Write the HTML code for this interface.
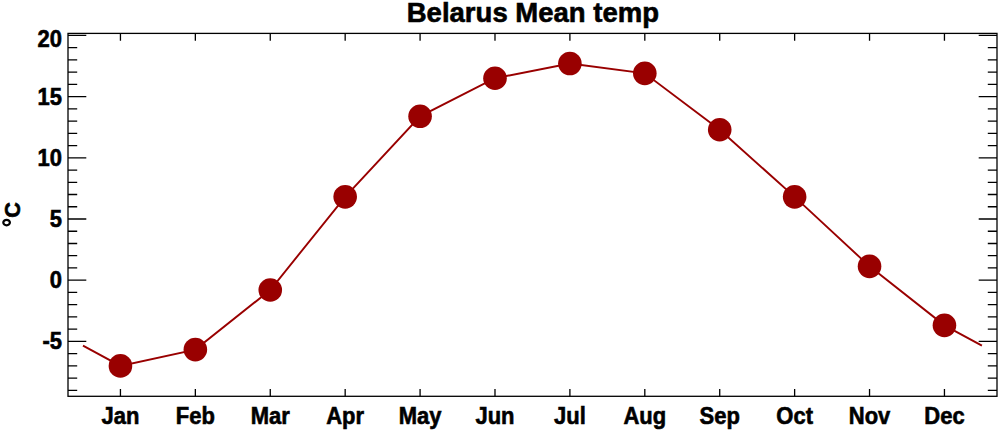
<!DOCTYPE html><html><head><meta charset="utf-8"><style>html,body{margin:0;padding:0;background:#fff;width:1000px;height:431px;overflow:hidden}svg{display:block}text{font-family:"Liberation Sans",sans-serif;font-weight:bold;fill:#000;stroke:#000;stroke-width:0.6}</style></head><body>
<svg width="1000" height="431" viewBox="0 0 1000 431">
<g stroke="#000" stroke-width="1.3" fill="none">
<rect x="68.0" y="33.4" width="929.00" height="362.90"/>
<path d="M68.0 390.36h9.2M997.0 390.36h-9.2M68.0 378.12h9.2M997.0 378.12h-9.2M68.0 365.88h9.2M997.0 365.88h-9.2M68.0 353.64h9.2M997.0 353.64h-9.2M68.0 341.40h18.3M997.0 341.40h-18.3M68.0 329.16h9.2M997.0 329.16h-9.2M68.0 316.92h9.2M997.0 316.92h-9.2M68.0 304.68h9.2M997.0 304.68h-9.2M68.0 292.44h9.2M997.0 292.44h-9.2M68.0 280.20h18.3M997.0 280.20h-18.3M68.0 267.96h9.2M997.0 267.96h-9.2M68.0 255.72h9.2M997.0 255.72h-9.2M68.0 243.48h9.2M997.0 243.48h-9.2M68.0 231.24h9.2M997.0 231.24h-9.2M68.0 219.00h18.3M997.0 219.00h-18.3M68.0 206.76h9.2M997.0 206.76h-9.2M68.0 194.52h9.2M997.0 194.52h-9.2M68.0 182.28h9.2M997.0 182.28h-9.2M68.0 170.04h9.2M997.0 170.04h-9.2M68.0 157.80h18.3M997.0 157.80h-18.3M68.0 145.56h9.2M997.0 145.56h-9.2M68.0 133.32h9.2M997.0 133.32h-9.2M68.0 121.08h9.2M997.0 121.08h-9.2M68.0 108.84h9.2M997.0 108.84h-9.2M68.0 96.60h18.3M997.0 96.60h-18.3M68.0 84.36h9.2M997.0 84.36h-9.2M68.0 72.12h9.2M997.0 72.12h-9.2M68.0 59.88h9.2M997.0 59.88h-9.2M68.0 47.64h9.2M997.0 47.64h-9.2M68.0 35.40h18.3M997.0 35.40h-18.3M120.44 396.3v-7.3M120.44 33.4v7.3M195.35 396.3v-7.3M195.35 33.4v7.3M270.26 396.3v-7.3M270.26 33.4v7.3M345.17 396.3v-7.3M345.17 33.4v7.3M420.08 396.3v-7.3M420.08 33.4v7.3M494.99 396.3v-7.3M494.99 33.4v7.3M569.90 396.3v-7.3M569.90 33.4v7.3M644.81 396.3v-7.3M644.81 33.4v7.3M719.72 396.3v-7.3M719.72 33.4v7.3M794.63 396.3v-7.3M794.63 33.4v7.3M869.54 396.3v-7.3M869.54 33.4v7.3M944.45 396.3v-7.3M944.45 33.4v7.3"/>
</g>
<polyline fill="none" stroke="#990000" stroke-width="1.9" points="82.98,345.62 120.44,365.88 195.35,349.60 270.26,289.99 345.17,196.85 420.08,116.31 494.99,78.24 569.90,63.55 644.81,73.34 719.72,129.77 794.63,196.85 869.54,266.37 944.45,325.37 981.90,345.62"/>
<circle cx="120.44" cy="365.88" r="11.8" fill="#990000"/>
<circle cx="195.35" cy="349.60" r="11.8" fill="#990000"/>
<circle cx="270.26" cy="289.99" r="11.8" fill="#990000"/>
<circle cx="345.17" cy="196.85" r="11.8" fill="#990000"/>
<circle cx="420.08" cy="116.31" r="11.8" fill="#990000"/>
<circle cx="494.99" cy="78.24" r="11.8" fill="#990000"/>
<circle cx="569.90" cy="63.55" r="11.8" fill="#990000"/>
<circle cx="644.81" cy="73.34" r="11.8" fill="#990000"/>
<circle cx="719.72" cy="129.77" r="11.8" fill="#990000"/>
<circle cx="794.63" cy="196.85" r="11.8" fill="#990000"/>
<circle cx="869.54" cy="266.37" r="11.8" fill="#990000"/>
<circle cx="944.45" cy="325.37" r="11.8" fill="#990000"/>
<text transform="translate(532.9,22.1) scale(0.99,1)" text-anchor="middle" font-size="27.8">Belarus Mean temp</text>
<text transform="translate(62.0,46.70) scale(0.955,1)" text-anchor="end" font-size="23.0">20</text>
<text transform="translate(62.0,104.50) scale(0.955,1)" text-anchor="end" font-size="23.0">15</text>
<text transform="translate(62.0,165.70) scale(0.955,1)" text-anchor="end" font-size="23.0">10</text>
<text transform="translate(62.0,226.90) scale(0.955,1)" text-anchor="end" font-size="23.0">5</text>
<text transform="translate(62.0,288.10) scale(0.955,1)" text-anchor="end" font-size="23.0">0</text>
<text transform="translate(62.0,349.30) scale(0.955,1)" text-anchor="end" font-size="23.0">-5</text>
<text transform="translate(120.44,423.6) scale(0.94,1)" text-anchor="middle" font-size="23.4">Jan</text>
<text transform="translate(195.35,423.6) scale(0.94,1)" text-anchor="middle" font-size="23.4">Feb</text>
<text transform="translate(270.26,423.6) scale(0.94,1)" text-anchor="middle" font-size="23.4">Mar</text>
<text transform="translate(345.17,423.6) scale(0.94,1)" text-anchor="middle" font-size="23.4">Apr</text>
<text transform="translate(420.08,423.6) scale(0.94,1)" text-anchor="middle" font-size="23.4">May</text>
<text transform="translate(494.99,423.6) scale(0.94,1)" text-anchor="middle" font-size="23.4">Jun</text>
<text transform="translate(569.90,423.6) scale(0.94,1)" text-anchor="middle" font-size="23.4">Jul</text>
<text transform="translate(644.81,423.6) scale(0.94,1)" text-anchor="middle" font-size="23.4">Aug</text>
<text transform="translate(719.72,423.6) scale(0.94,1)" text-anchor="middle" font-size="23.4">Sep</text>
<text transform="translate(794.63,423.6) scale(0.94,1)" text-anchor="middle" font-size="23.4">Oct</text>
<text transform="translate(869.54,423.6) scale(0.94,1)" text-anchor="middle" font-size="23.4">Nov</text>
<text transform="translate(944.45,423.6) scale(0.94,1)" text-anchor="middle" font-size="23.4">Dec</text>
<text transform="translate(20.3,210.0) rotate(-90) scale(0.96,1)" text-anchor="middle" font-size="22.6">C</text>
<ellipse cx="6.6" cy="222.55" rx="3.3" ry="2.75" fill="none" stroke="#000" stroke-width="2.2"/>
</svg></body></html>
